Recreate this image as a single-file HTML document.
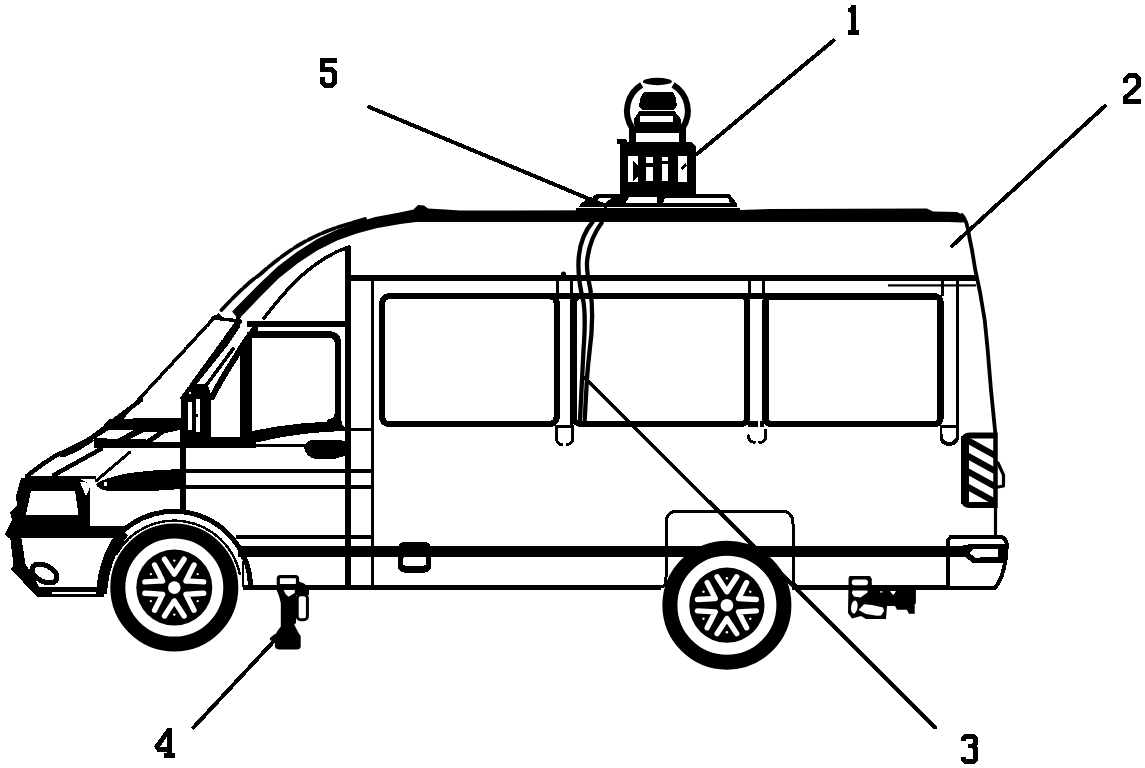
<!DOCTYPE html>
<html>
<head>
<meta charset="utf-8">
<title>Vehicle diagram</title>
<style>
  html, body { margin: 0; padding: 0; background: #ffffff; }
  body { width: 1145px; height: 768px; overflow: hidden; font-family: "Liberation Sans", sans-serif; }
  svg { display: block; }
  .k { fill: none; stroke: #000; stroke-linecap: round; stroke-linejoin: round; }
  .b { fill: #000; stroke: none; }
  .w { fill: #fff; stroke: none; }
</style>
</head>
<body>
<svg width="1145" height="768" viewBox="0 0 1145 768" shape-rendering="crispEdges">
<title>Side view of a van with roof-mounted device: reference numerals 1 to 5</title>
<rect class="w" x="0" y="0" width="1145" height="768"/>
<g id="label-text" font-family="Liberation Sans, sans-serif" font-size="40" fill="#ffffff">
  <text x="847" y="35">1</text>
  <text x="1121" y="103">2</text>
  <text x="959" y="764">3</text>
  <text x="153" y="758">4</text>
  <text x="318" y="88">5</text>
</g>

<!-- ===== ROOF ===== -->
<g id="roof" shape-rendering="auto">
  <!-- main thick roof line -->
  <path class="b" d="M414,209 L418,205 L424,205.500 L428,208.500 L445,209.500 L460,210.500 L600,210.200 L740,210 L770,209 L927,208.600 L933,211.500 L957,212 L962,214.500 L968,222 L961,222.500 L948,222 L600,222 L414,222 Z"/>
  <!-- front curved roof (thick) -->
  <path class="b" d="M232.1,311.5 L258.2,284.9 L277.7,266.4 L297.3,251.7 L316.8,239.2 L336.3,229.9 L355.9,222.7 L375.4,217.1 L399.6,212.5 L416.0,209.0 L416.0,222.0 L400.4,224.0 L376.2,228.2 L356.7,233.4 L337.1,240.6 L317.6,250.2 L298.1,262.9 L278.5,278.5 L259.0,298.0 L238.4,319.6 Z"/>
  <!-- thin outer parallel line -->
  <path class="k" stroke-width="3.800" stroke-dasharray="13 3" d="M221.500,310 C240,290 252,280 260.500,274 C275,261 290,250 301.600,243.500 C315,236 327,230.500 340,226.500 L365,219"/>
</g>

<!-- ===== REAR EDGE ===== -->
<g id="rear" shape-rendering="auto">
  <path class="k" stroke-width="3.800" d="M962,215 C966,219 968,226 969.500,238 L972,250 L975.300,270 L980,292 L984.700,320 L987.500,348 L991,390 L995.300,433"/>
  <path class="k" stroke-width="3.200" d="M995.500,506 L995.500,537"/>
  <rect class="b" x="888" y="284.300" width="88" height="2.200"/>
</g>

<!-- ===== BELT / HORIZONTALS ===== -->
<g id="belts">
  <!-- upper belt line -->
  <rect class="b" x="350" y="275" width="627" height="5.5"/>
  <!-- thick sill bar -->
  <rect class="b" x="238" y="546" width="728" height="10.5"/>
  <!-- sill bottom line -->
  <rect class="b" x="243" y="585.200" width="418" height="4.400"/>
  <rect class="b" x="792" y="585.200" width="158" height="4.400"/>
</g>


<!-- ===== SIDE STEP ===== -->
<g id="step">
  <rect class="b" x="398" y="542" width="33" height="30.500" rx="6"/>
  <rect class="w" x="403" y="557" width="23" height="8.500" rx="2"/>
</g>

<!-- ===== WINDOWS ===== -->
<g id="windows">
  <rect class="k" x="382.200" y="296.200" width="174.500" height="127.800" rx="7" stroke-width="6.400"/>
  <rect class="k" x="574.200" y="296.300" width="173.200" height="127.700" rx="6" stroke-width="6"/>
  <rect class="k" x="765.300" y="296.300" width="175.300" height="127.700" rx="6" stroke-width="6.400"/>
  <rect class="b" x="550" y="293.300" width="225" height="5.800"/>
</g>

<!-- ===== CAB / FRONT ===== -->
<g id="cab">
  <!-- quarter panel triangle behind door -->
  <path class="k" stroke-width="3.500" d="M349,247 C330,253 310,267 294,283 C282,295 272,308 264,318"/>
  <rect class="b" x="247" y="321.300" width="104" height="6"/>
  <!-- B pillar verticals -->
  <rect class="b" x="344.800" y="246" width="6.200" height="343"/>
  <rect class="b" x="370.800" y="279" width="3.200" height="308"/>
  <rect class="b" x="351" y="427.500" width="20" height="3.500"/>
  <!-- door window frame -->
  <path class="b" d="M239.500,352 C243,342 247,334 252,327 L252,437 L239.500,437 Z"/>
  <path class="k" stroke-width="6.400" d="M250,334.500 L329,334.500 Q338,334.500 338,344 L338,412 Q338,421 330,422"/>
  <!-- door window bottom curve -->
  <path class="b" d="M252,431 L278.800,426.200 L302.900,423.300 L330,421.500 L334,419 L335,415 L340.500,415 L342,424 L345,428 L345,431 L323.900,432 L302.900,434 L281.900,437.200 L255.700,442.500 L252,446 Z"/>
  <!-- beltline of door thick -->
  <rect class="b" x="94" y="437" width="162" height="10.500"/>
  <rect class="b" x="254" y="444" width="52" height="2.800"/>
  <!-- door handle -->
  <path class="b" d="M303.500,446 L305,444 Q309,440 312,440 L341,440 L345,441.500 L345,456 L341,457 Q336,458.700 334,458.700 L314,458.700 Q306,456 304.500,449 Z"/>
  <!-- door horizontals -->
  <rect class="b" x="186" y="468.500" width="185" height="4"/>
  <rect class="b" x="186" y="485" width="185" height="4"/>
  <rect class="b" x="236" y="535" width="135" height="3.500"/>
  <!-- door front vertical -->
  <rect class="b" x="180" y="436" width="6" height="75"/>
  <!-- A pillar lines -->
  <path class="k" stroke-width="6" d="M212,397 C220,382 227,370 235,358 C241,348 247,337 255,329"/>
  <path class="k" stroke-width="4.500" d="M194,384 L226,344 L238,326"/>
  <path class="k" stroke-width="3.500" d="M205,387 L233,349"/>
  <!-- windshield -->
  <path class="k" stroke-width="3.500" stroke-dasharray="12 2.500" d="M119,421 L215,317"/>
  <path class="k" stroke-width="3.500" stroke-dasharray="12 2.500" d="M182,398 L237,322"/>
  <path class="k" stroke-width="3.500" d="M213,318 L240,321"/>
  <path class="b" d="M213,318 L218,313 L224,318.500 Z"/>
  <path class="k" stroke-width="4" d="M236,322 L241,313 M232,331 L240,322"/>
  <!-- mirror -->
  <path class="b" d="M181,398 L182.500,394 L191.500,383.500 L207,384.500 Q210.500,390 211,399 L211,440 L180.500,440 Z"/>
  <rect class="w" x="188.400" y="401.500" width="3.800" height="28"/>
  <rect class="w" x="195.600" y="399" width="4.400" height="32.500"/>
  <rect class="b" x="195" y="414" width="3" height="3"/>
  <rect class="w" x="189.300" y="391.500" width="2" height="2.500"/>
  <!-- cowl black mass with white lozenges -->
  <path class="b" d="M109,419 L181,417.500 L181,448 L94,448 L94,437 Z"/>
  <path class="w" d="M96,438 L109.500,429.500 L135,429.500 L117,439 Z"/>
  <path class="w" d="M131,438.500 L144.500,431.500 L158,432 L146.500,439.500 Z"/>
  <path class="w" d="M153,441.500 L164,433.500 L179.800,429.800 L179.800,441.500 Z"/>
  <path class="w" d="M172,418.500 L180,411 L180,417.500 Z"/>
  <!-- hood -->
  <path class="k" stroke-width="4.500" d="M27,476 L31.700,472.400 L43.400,463.600 L55.200,456 L66.900,450.500 L78.600,445 L90.300,438.500 L102,430 L109,424 L141,400"/>
  <path class="b" d="M58,456 L78.600,446 L92,438.500 L94,441 L80,450 L64,457.500 Z"/>
  <path class="k" stroke-width="4.500" d="M54,475 L101,449"/>
  <path class="k" stroke-width="3" d="M96,481 L130,452"/>
  <rect class="b" x="26" y="475.500" width="70" height="3.500"/>
  <!-- turn signal -->
  <path class="b" d="M96,484 Q104,478 127,473.500 Q150,470 176,469.300 L180,469.300 L180,489 Q140,492.500 108,491 Q98,489.500 96,484 Z"/>
  <circle class="w" cx="105.500" cy="484" r="2"/>
  <!-- headlight surround -->
  <path class="b" d="M21,478 L78,478 L90,484 L90,526 L126,526 L126,531 L115,538 L8,538 L5,534 L12,520 L10,512 L17,506 L16,496 Z"/>
  <path class="w" d="M31,491 L75,491 L78.500,514.500 L26,514.500 Z"/>
  <path class="w" d="M80,482 L92,483 L86,496 Z"/>
  <!-- bumper -->
  <path class="b" d="M9,537 L21.500,538.500 L25.500,564 L30,571 L39,586.500 L96,586.500 L104,590 L104,597.500 L37,596.500 L10.500,569 L13.500,566 L10.500,540 Z"/>
  <rect class="w" x="52" y="592.200" width="44" height="1.800"/>
  <ellipse cx="44.500" cy="573.500" rx="13.500" ry="8" transform="rotate(28 44.500 573.500)" fill="#fff" stroke="#000" stroke-width="5"/>
  <!-- front wheel arch -->
  <path class="k" stroke-width="11" style="stroke-linecap:butt" d="M101.500,594 C103,568 110,549 124,532"/>
  <path class="k" stroke-width="5" d="M116,538 A76.500,76.500 0 0 1 250.500,585"/>
  <path class="k" stroke-width="2.500" d="M116.3,554.1 A67,67 0 0 1 239.8,573.7"/>
  <rect class="b" x="180.500" y="505" width="5.500" height="8"/>
</g>

<!-- ===== ROOF DEVICE ===== -->
<g id="device">
  <!-- base plate -->
  <path class="b" d="M598,193.500 L729,193.500 L736.500,203 L736.500,206.700 L579,206.700 L581,203 Z"/>
  <rect class="b" x="576" y="208.300" width="164" height="3"/>
  <path class="w" d="M629,197 L657,197 L657,203 L625.500,203 Z"/>
  <path class="w" d="M665,197.500 L728,197.500 L730,203.200 L663,203.200 Z"/>
  <path class="w" d="M601,197.500 L612,197.500 L606,202.500 L593,202.500 Z"/>
  <path class="w" d="M588,199 L593,197 L590,201.500 Z"/>
  <!-- box -->
  <path class="b" d="M619.800,141.500 L691.300,141.500 L696,146.500 L696,195 L619.800,195 Z"/>
  <rect class="b" x="616.800" y="138.800" width="10" height="5.200" rx="2"/>
  <rect class="w" x="627.500" y="156" width="10.500" height="26"/>
  <rect class="w" x="646" y="157" width="6.500" height="24"/>
  <rect class="w" x="661.500" y="157" width="6.500" height="24"/>
  <rect class="w" x="678" y="156" width="9" height="26"/>
  <path class="b" d="M633,160 L638,166 L638,176 L633,182 Z"/>
  <rect class="b" x="646" y="163" width="7" height="4"/>
  <rect class="b" x="661" y="161" width="7" height="3"/>
  <path class="b" d="M680,168 L686,163 L687,166 L682,170 Z"/>
  <!-- dome -->
  <g shape-rendering="auto">
  <path class="k" stroke-width="6" style="stroke-linecap:butt" d="M641.7,84.9 A30.4,30.4 0 0 0 632.2,128.0"/>
  <path class="k" stroke-width="6" style="stroke-linecap:butt" d="M673.1,84.9 A30.4,30.4 0 0 1 682.6,128.0"/>
  <ellipse class="b" cx="657.400" cy="81.500" rx="14.600" ry="3.700"/>
  </g>
  <!-- posts -->
  <rect class="b" x="629.300" y="126" width="6.200" height="16"/>
  <rect class="b" x="679.300" y="126" width="6.200" height="16"/>
  <!-- camera head -->
  <path class="b" d="M644.500,92.400 L672.500,92.400 Q675,94 676,99 L676.700,105 Q676.500,109.500 672,110.100 L644,110.100 Q639.500,109.500 639.200,105 L640,99 Q641.500,94 644.500,92.400 Z"/>
  <!-- ring -->
  <path class="b" d="M639.200,111.100 L674.600,111.100 L680.800,119 L680.800,123 L679.800,132.500 L636,132.500 L634,123 L634,119 Z"/>
  <rect class="w" x="640.200" y="115.800" width="32.800" height="6.300"/>
  <rect class="w" x="635.500" y="133" width="43.500" height="8.900"/>
</g>

<!-- ===== CABLE ===== -->
<g id="cable" shape-rendering="auto">
  <path class="k" stroke-width="4.300" d="M592.500,222 C584,232 579,246 578.500,262 C578,275 580.500,290 583.500,302 C585.500,315 585,330 583.500,350 L580,420"/>
  <path class="k" stroke-width="4.300" d="M601.500,223 C594,233 588.500,246 587,262 C586.500,272 588.500,280 590.500,290 C592.500,305 592.500,330 589.500,352 C588,365 587.500,372 587,378 L584.700,420"/>
  <circle class="b" cx="563.500" cy="274" r="2.600"/>
</g>

<!-- ===== WINDOW POSTS ===== -->
<g id="posts">
  <rect class="b" x="570" y="280" width="3" height="145"/>
  <path class="k" stroke-width="3" d="M556.500,427 L556.500,439 Q557.500,444.500 562,444.500 M567,444.500 Q572,444 572.700,439 L572.700,427"/>
  <rect class="b" x="555.300" y="425.400" width="18.500" height="2.200"/>
  <path class="k" stroke-width="3" d="M748.500,436 Q749,442 753,442 L755,442 M759,442 L762,442 Q765.500,441 765.500,437 L765.500,430"/>
  <rect class="b" x="748" y="421.200" width="10" height="5.400"/>
  <rect class="b" x="760" y="421.200" width="4" height="5.400"/>
  <path class="k" stroke-width="2.600" d="M957.200,280 L957.200,440"/>
  <path class="k" stroke-width="2.400" d="M941,428 L941.500,438"/>
  <path class="k" stroke-width="4" d="M941.500,439.500 Q944,444 950,444 Q955,443.500 957,439"/>
  <rect class="b" x="940" y="425.400" width="18.500" height="2.400"/>
  <rect class="b" x="556" y="280" width="2.500" height="16"/>
  <rect class="b" x="748" y="280" width="2.500" height="16"/>
  <rect class="b" x="762" y="280" width="2.500" height="16"/>
  <rect class="b" x="941" y="280" width="2.500" height="16"/>
</g>

<!-- ===== REAR ARCH PANEL ===== -->
<g id="reararch">
  <path class="k" stroke-width="3" d="M661,587 Q666,587 666,577 L666,524 Q666,511 679,511 L780,511 Q793,511 793,524 L793,578 Q793,587 799,587"/>
</g>

<!-- ===== TAILLIGHT ===== -->
<g id="tail" shape-rendering="auto">
  <path class="b" d="M970,432.500 L997.500,432.500 L997.500,508 L970,508 Q961,508 961,499 L961,441 Q961,432.500 970,432.500 Z"/>
  <rect class="w" x="969" y="438.500" width="24.500" height="63.500"/>
  <g stroke="#000" stroke-width="6.400" stroke-linecap="butt">
    <path d="M967,440 L996,456"/>
    <path d="M967,455.500 L996,471.500"/>
    <path d="M967,471 L996,487"/>
    <path d="M967,486.500 L996,502.500"/>
  </g>
  <rect class="b" x="993.500" y="433" width="4" height="75"/>
  <rect class="b" x="961" y="436" width="8" height="68"/>
  <path class="k" stroke-width="3.200" d="M998,463 L1003.500,475 L1003.500,486 L998,487"/>
</g>

<!-- ===== REAR BUMPER ===== -->
<g id="rbumper">
  <path class="k" stroke-width="4" d="M947.500,588 L947.500,541 L951,536.700 L1001,536.700 Q1006.800,538.500 1006.800,546 L1005.500,560 Q1003,578 995,588 L947.500,588"/>
  <path class="b" d="M960,546 L970,544 L1005.500,544 L1005.500,562.500 L972,562.500 L964.500,556.500 L960,556.500 Z"/>
  <path class="w" d="M974,549 L997.500,549 L997.500,556.500 L980,557.500 L976,558 L969.500,553 Z"/>
</g>

<!-- ===== HITCH ===== -->
<g id="hitch" shape-rendering="auto">
  <path class="b" d="M849.500,576 L870,576 L871.800,579 L871.800,588 L915.900,588 L915.900,603.500 L914.700,604 L914.700,613.700 L909,613.700 L906.800,609.800 L897,609.800 L895,605.900 L887,605.900 L886,618.900 L866,618.900 L861,616 L852,618.500 L848,613 L848.600,578 Z"/>
  <rect class="w" x="851.800" y="579.500" width="16.100" height="5.800" rx="2.500"/>
  <path class="w" d="M852.500,590.500 L867.500,590.500 L867.500,592.500 L860.500,597.600 L854,596.500 L851.800,593 Z"/>
  <ellipse class="w" cx="854.300" cy="607" rx="3.200" ry="6.600" transform="rotate(8 854.300 607)"/>
  <path class="w" d="M858.500,610 L864,604.200 L872,605 L883,607.500 L884,611 L881,615.500 L877,615.700 L866,614 Z"/>
  <rect class="w" x="880" y="591.300" width="2.500" height="1.200"/>
  <path class="w" d="M890,591 L896,591 L894,594.500 L892.500,594.500 Z"/>
</g>

<!-- ===== JACK ===== -->
<g id="jack" shape-rendering="auto">
  <rect x="278.300" y="576.600" width="19.200" height="9" rx="2" fill="#fff" stroke="#000" stroke-width="3.200"/>
  <path class="b" d="M276.700,588 L299,588 L296,596 L296,623 L294.200,624.500 L298.300,632.500 L300.700,636 L300.700,647 Q300,649.500 297,649.500 L279,649.500 Q275,649 274.900,646 L274.900,636 L277.200,631.300 L280.800,626.600 L280.800,603 Q279.500,596 276.700,590.300 Z"/>
  <path class="w" d="M283.700,589.900 L294.800,589.900 L294.800,593 L288.500,596.700 L285.500,594 Z"/>
  <rect x="297.200" y="594.700" width="10.200" height="25.100" rx="3.500" fill="#fff" stroke="#000" stroke-width="3"/>
  <path class="b" d="M299,581.500 L304,583.500 L309,587.500 L309,595 L296,595 L296,588 L299,588 Z"/>
  <path class="k" stroke-width="3.500" d="M271.500,639 L276,635.500"/>
</g>

<!-- ===== left end of sill ===== -->
<g id="sill-left">
  <path class="k" stroke-width="3" d="M242,557 Q250,566 251.500,586"/>
  <path class="k" stroke-width="2.500" d="M243,562 L243,586"/>
</g>

<!-- ===== WHEELS ===== -->
<g id="wheels" shape-rendering="auto">
  <circle cx="174.300" cy="587.600" r="56.500" fill="#fff" stroke="#000" stroke-width="15"/>
  <circle class="b" cx="174.3" cy="587.6" r="38"/>
  <circle class="w" cx="174.3" cy="587.6" r="6.300"/>
  <path fill="none" stroke="#fff" stroke-width="5.400" stroke-linecap="round" d="M174.3,574.1 Q179.0,567.1 184.1,559.2 M174.3,574.1 Q169.6,567.1 164.5,559.2 M162.6,580.9 Q158.9,573.3 154.6,565.0 M162.6,580.9 Q154.2,581.5 144.9,581.9 M162.6,594.4 Q154.2,593.7 144.9,593.3 M162.6,594.4 Q158.9,601.9 154.6,610.2 M174.3,601.1 Q169.6,608.1 164.5,616.0 M174.3,601.1 Q179.0,608.1 184.1,616.0 M186.0,594.4 Q189.7,601.9 194.0,610.2 M186.0,594.4 Q194.4,593.7 203.7,593.3 M186.0,580.9 Q194.4,581.5 203.7,581.9 M186.0,580.9 Q189.7,573.3 194.0,565.0"/>
  <circle class="w" cx="174.3" cy="560.6" r="1.200"/>
  <circle class="w" cx="150.9" cy="574.1" r="1.200"/>
  <circle class="w" cx="150.9" cy="601.1" r="1.200"/>
  <circle class="w" cx="174.3" cy="614.6" r="1.200"/>
  <circle class="w" cx="197.7" cy="601.1" r="1.200"/>
  <circle class="w" cx="197.7" cy="574.1" r="1.200"/>
  <circle cx="726.900" cy="605.200" r="57" fill="#fff" stroke="#000" stroke-width="15"/>
  <circle class="b" cx="726.9" cy="605.2" r="37.6"/>
  <circle class="w" cx="726.9" cy="605.2" r="6.300"/>
  <path fill="none" stroke="#fff" stroke-width="5.400" stroke-linecap="round" d="M726.9,591.7 Q731.6,584.7 736.7,576.8 M726.9,591.7 Q722.2,584.7 717.1,576.8 M715.2,598.5 Q711.5,590.9 707.2,582.6 M715.2,598.5 Q706.8,599.1 697.5,599.5 M715.2,612.0 Q706.8,611.3 697.5,610.9 M715.2,612.0 Q711.5,619.5 707.2,627.8 M726.9,618.7 Q722.2,625.7 717.1,633.6 M726.9,618.7 Q731.6,625.7 736.7,633.6 M738.6,612.0 Q742.3,619.5 746.6,627.8 M738.6,612.0 Q747.0,611.3 756.3,610.9 M738.6,598.5 Q747.0,599.1 756.3,599.5 M738.6,598.5 Q742.3,590.9 746.6,582.6"/>
  <circle class="w" cx="726.9" cy="578.2" r="1.200"/>
  <circle class="w" cx="703.5" cy="591.7" r="1.200"/>
  <circle class="w" cx="703.5" cy="618.7" r="1.200"/>
  <circle class="w" cx="726.9" cy="632.2" r="1.200"/>
  <circle class="w" cx="750.3" cy="618.7" r="1.200"/>
  <circle class="w" cx="750.3" cy="591.7" r="1.200"/>
</g>

<!-- ===== LEADERS ===== -->
<g id="leaders">
  <path class="k" stroke-width="4" d="M697,154 L833.500,40.500"/>
  <path class="k" stroke-width="4" d="M952,246 L1105,106"/>
  <path class="k" stroke-width="4" d="M585,378 L935,727.500"/>
  <path class="k" stroke-width="4" d="M193.500,727.500 L274,641"/>
  <path class="k" stroke-width="4" d="M369,107 L606,206"/>
</g>


<!-- ===== LABELS ===== -->
<g id="labels" fill="none" stroke="#000" stroke-width="4.800" stroke-linecap="butt" stroke-linejoin="miter">
  <!-- 5 -->
  <path d="M337,60.300 L322.400,60.300 L322.400,72 M322.400,69.300 L331.500,69.300 L334.600,72.300 L334.600,82.800 L331.800,85.600 L325.200,85.600 L322.400,82.800 L322.400,76.500"/>
  <!-- 2 -->
  <path d="M1125.500,83 L1125.500,79 L1129.200,75.300 L1135.600,75.300 L1138.800,78.500 L1138.800,85.500 L1125.800,97.500 L1125.800,101.300 L1140.500,101.300"/>
  <!-- 3 -->
  <path d="M963.300,740.500 L963.300,738.500 L965.800,736.200 L973,736.200 L975.500,738.600 L975.500,743.800 L973.300,746 L968,746 M973.300,746 L975.500,748.200 L975.500,759.300 L973,761.800 L965.800,761.800 L963.300,759.300 L963.300,756.500"/>
</g>
<g id="labels-serif" class="b">
  <!-- 1 -->
  <path d="M851,5 L856.200,5 L856.200,29.700 L859.200,30.500 L859.200,34.700 L848,34.700 L848,30.500 L851,29.700 L851,13 L848,12 L848,8.500 L851,7 Z"/>
  <!-- 4 -->
  <path d="M167.500,728 L172,728 L172,752.800 L175,753.500 L175,758 L164,758 L164,753.500 L167,752.800 L167,752 L157.500,752 L154,746.500 Z M167,736.500 L160,746.800 L167,746.800 Z" fill-rule="evenodd"/>
</g>

</svg>
</body>
</html>
